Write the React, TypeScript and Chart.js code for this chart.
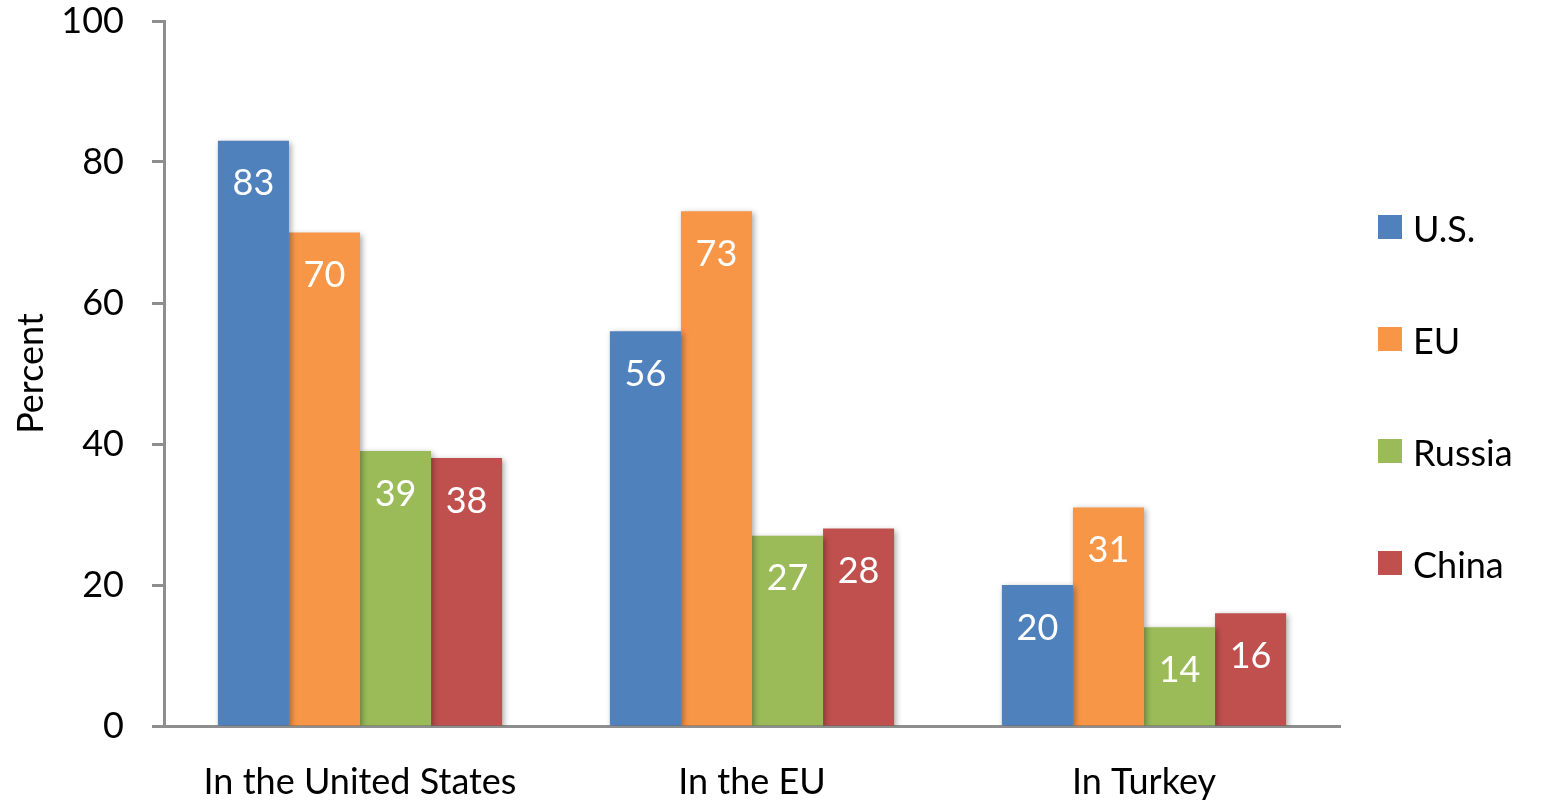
import React, { useEffect, useRef } from "react";
import { Chart, registerables } from "chart.js";

Chart.register(...registerables);

// ---- data ----
const categories = ["In the United States", "In the EU", "In Turkey"];
const seriesNames = ["U.S.", "EU", "Russia", "China"];
const usValues = [83, 56, 20];
const euValues = [70, 73, 31];
const russiaValues = [39, 27, 14];
const chinaValues = [38, 28, 16];
const yAxisTitle = "Percent";
const yMin = 0;
const yMax = 100;
const yStep = 20;

// ---- styles ----
const seriesColors = ["#4F81BD", "#F79646", "#9BBB59", "#C0504D"];
const axisColor = "#8e8e8e";
const FONT = "Lato";
const FONT_SIZE = 36;

const shadowAndLabels = {
  id: "shadowAndLabels",
  beforeDatasetsDraw(chart: any) {
    const ctx = chart.ctx;
    ctx.save();
    ctx.shadowColor = "rgba(0,0,0,0.35)";
    ctx.shadowBlur = 6;
    ctx.shadowOffsetX = 2;
    ctx.shadowOffsetY = 2;
  },
  afterDatasetsDraw(chart: any) {
    const ctx = chart.ctx;
    ctx.restore();
    ctx.save();
    ctx.fillStyle = "#ffffff";
    ctx.font = `${FONT_SIZE}px ${FONT}`;
    ctx.textAlign = "center";
    ctx.textBaseline = "middle";
    chart.data.datasets.forEach((ds: any, di: number) => {
      const meta = chart.getDatasetMeta(di);
      meta.data.forEach((el: any, i: number) => {
        ctx.fillText(String(ds.data[i]), el.x, el.y + 43);
      });
    });
    ctx.restore();
  },
};

const customLegend = {
  id: "customLegend",
  afterDraw(chart: any) {
    const ctx = chart.ctx;
    ctx.save();
    ctx.font = `${FONT_SIZE}px ${FONT}`;
    ctx.textAlign = "left";
    ctx.textBaseline = "middle";
    chart.data.datasets.forEach((ds: any, i: number) => {
      const cy = 227 + i * 112;
      ctx.fillStyle = ds.backgroundColor;
      ctx.fillRect(1378, cy - 12, 24, 24);
      ctx.fillStyle = "#000000";
      ctx.fillText(ds.label, 1413, cy + 3);
    });
    ctx.restore();
  },
};

export default function App() {
  const ref = useRef<HTMLCanvasElement | null>(null);

  useEffect(() => {
    if (!ref.current) return;
    const valueSets = [usValues, euValues, russiaValues, chinaValues];
    const chart = new Chart(ref.current, {
      type: "bar",
      data: {
        labels: categories,
        datasets: seriesNames.map((name, i) => ({
          label: name,
          data: valueSets[i],
          backgroundColor: seriesColors[i],
          borderWidth: 0,
          barPercentage: 1,
          categoryPercentage: 0.725,
        })),
      },
      options: {
        animation: false,
        responsive: true,
        maintainAspectRatio: false,
        layout: { padding: { left: 0, right: 215, top: 0, bottom: 0 } },
        plugins: {
          legend: { display: false },
          tooltip: { enabled: false },
        },
        scales: {
          x: {
            grid: { display: false },
            border: { display: true, color: axisColor, width: 3 },
            ticks: {
              color: "#000",
              font: { family: FONT, size: FONT_SIZE },
              padding: 27,
              maxRotation: 0,
              autoSkip: false,
            },
            afterFit: (scale: any) => {
              scale.height = 76;
            },
          },
          y: {
            min: yMin,
            max: yMax,
            grid: {
              display: true,
              drawOnChartArea: false,
              drawTicks: true,
              tickLength: 12,
              tickWidth: 3,
              tickColor: axisColor,
              color: axisColor,
            },
            border: { display: true, color: axisColor, width: 3 },
            ticks: {
              stepSize: yStep,
              color: "#000",
              font: { family: FONT, size: FONT_SIZE },
              padding: 28,
            },
            title: {
              display: true,
              text: yAxisTitle,
              color: "#000",
              font: { family: FONT, size: FONT_SIZE },
              padding: { top: 10, bottom: 0 },
            },
            afterFit: (scale: any) => {
              scale.width = 164;
              scale.paddingTop = 21;
              scale.paddingBottom = 0;
            },
          },
        },
      },
      plugins: [shadowAndLabels, customLegend],
    });
    return () => chart.destroy();
  }, []);

  return (
    <div style={{ position: "fixed", left: 0, top: 0, width: 1555, height: 802, background: "#fff" }}>
      <canvas ref={ref} />
    </div>
  );
}
